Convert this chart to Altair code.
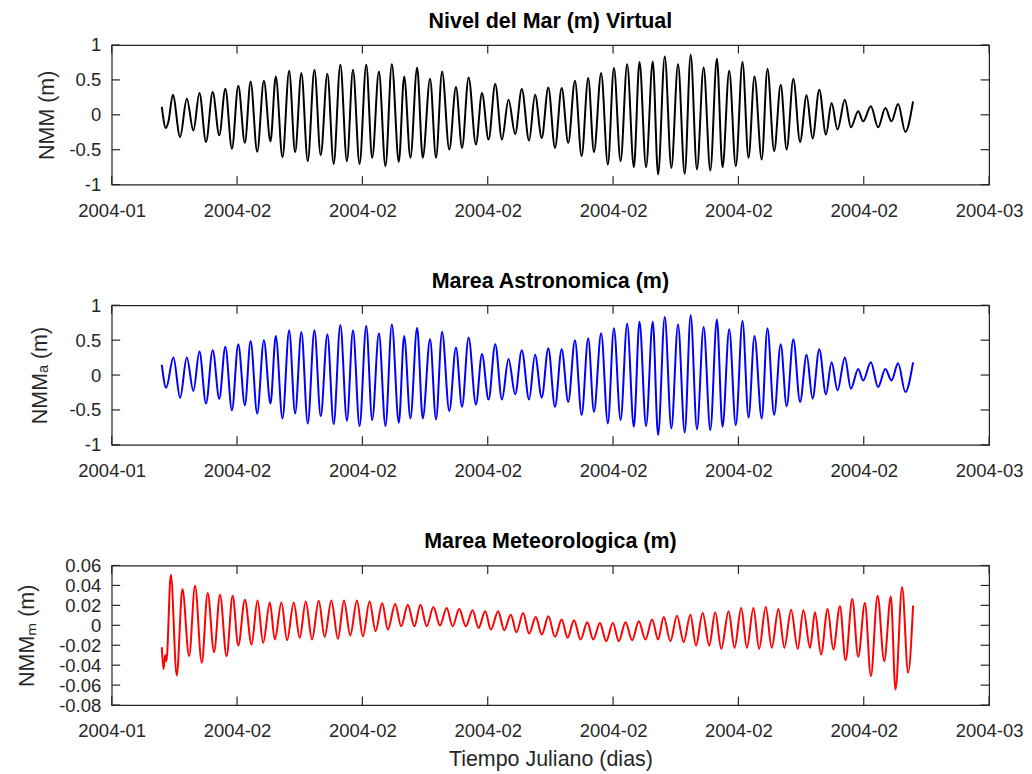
import altair as alt
import pandas as pd

# ---------------- data ----------------
START = "2004-01-29 00:00"   # first sample
x_tick_dates = ["2004-01-27", "2004-02-01", "2004-02-06", "2004-02-11",
                "2004-02-16", "2004-02-21", "2004-02-26", "2004-03-02"]

# hours since START of each turning point, and sea level (m)
nmm_hours = [0, 3.8, 6.4, 10.5, 17.5, 23.9, 30.2, 36.0, 42.3, 48.7,
             55.0, 60.8, 67.1, 73.2, 79.5, 85.0, 91.3, 97.7, 104.0, 109.1,
             115.5, 121.9, 127.6, 133.6, 139.7, 146.1, 152.1, 158.5, 164.5, 170.9,
             177.2, 183.0, 189.3, 195.7, 201.4, 207.8, 214.1, 220.2, 226.9, 232.0,
             238.0, 244.4, 249.8, 256.8, 262.5, 268.3, 275.2, 281.6, 287.4, 293.7,
             300.7, 306.5, 312.8, 319.2, 325.6, 331.9, 338.3, 344.6, 351.6, 357.3,
             363.7, 370.0, 376.4, 382.8, 389.1, 395.5, 401.9, 408.2, 413.7, 420.6,
             427.0, 432.8, 439.2, 445.5, 451.9, 457.3, 463.6, 470.0, 475.1, 481.5,
             487.8, 494.2, 500.6, 506.3, 512.3, 518.7, 525.1, 531.4, 536.8, 543.2,
             549.5, 555.9, 561.7, 567.4, 574.3, 579.8, 586.2, 592.5, 598.2, 604.6,
             611.0, 617.3, 623.0, 629.4, 635.8, 641.2, 646.9, 653.9, 659.7, 666.7,
             671.4, 678.8, 685.7, 692.7, 698.5, 704.9, 711.8, 719.2]
nmm_values = [0.112, -0.188, -0.093, 0.288, -0.317, 0.231, -0.226, 0.312, -0.388, 0.326,
              -0.293, 0.374, -0.488, 0.417, -0.402, 0.479, -0.531, 0.488, -0.379, 0.55,
              -0.607, 0.631, -0.536, 0.598, -0.664, 0.645, -0.579, 0.588, -0.702, 0.717,
              -0.664, 0.645, -0.702, 0.717, -0.617, 0.621, -0.736, 0.726, -0.674, 0.55,
              -0.617, 0.679, -0.617, 0.517, -0.617, 0.621, -0.498, 0.398, -0.474, 0.536,
              -0.426, 0.312, -0.355, 0.440, -0.355, 0.217, -0.274, 0.369, -0.369, 0.288,
              -0.331, 0.393, -0.474, 0.383, -0.402, 0.488, -0.593, 0.526, -0.536, 0.598,
              -0.712, 0.669, -0.664, 0.726, -0.75, 0.755, -0.75, 0.764, -0.855, 0.836,
              -0.760, 0.726, -0.845, 0.860, -0.783, 0.679, -0.798, 0.802, -0.75, 0.631,
              -0.736, 0.755, -0.617, 0.55, -0.640, 0.660, -0.521, 0.431, -0.498, 0.517,
              -0.388, 0.279, -0.340, 0.360, -0.283, 0.169, -0.212, 0.217, -0.179, 0.05,
              -0.093, 0.121, -0.179, 0.098, -0.093, 0.155, -0.245, 0.193]

astro_hours = [0, 4.1, 11.1, 17.5, 23.9, 30.2, 36.0, 42.3, 48.7,
               55.0, 60.8, 67.1, 73.2, 79.5, 85.0, 91.3, 97.7, 104.0, 109.1,
               115.5, 121.9, 127.6, 133.6, 139.7, 146.1, 152.1, 158.5, 164.5, 170.9,
               177.2, 183.0, 189.3, 195.7, 201.4, 207.8, 214.1, 220.2, 226.9, 232.0,
               238.0, 244.4, 249.8, 256.8, 262.5, 268.3, 275.2, 281.6, 287.4, 293.7,
               300.7, 306.5, 312.8, 319.2, 325.6, 331.9, 338.3, 344.6, 351.6, 357.3,
               363.7, 370.0, 376.4, 382.8, 389.1, 395.5, 401.9, 408.2, 413.7, 420.6,
               427.0, 432.8, 439.2, 445.5, 451.9, 457.3, 463.6, 470.0, 475.1, 481.5,
               487.8, 494.2, 500.6, 506.3, 512.3, 518.7, 525.1, 531.4, 536.8, 543.2,
               549.5, 555.9, 561.7, 567.4, 574.3, 579.8, 586.2, 592.5, 598.2, 604.6,
               611.0, 617.3, 623.0, 629.4, 635.8, 641.2, 646.9, 653.9, 659.7, 666.7,
               671.4, 678.8, 685.7, 692.7, 698.5, 704.9, 711.8, 719.2]
astro_values = [0.144, -0.182, 0.253, -0.324, 0.253, -0.229, 0.338, -0.409, 0.357,
                -0.338, 0.404, -0.504, 0.442, -0.433, 0.489, -0.551, 0.499, -0.409, 0.560,
                -0.622, 0.641, -0.551, 0.617, -0.693, 0.641, -0.589, 0.584, -0.702, 0.716,
                -0.655, 0.641, -0.730, 0.702, -0.645, 0.598, -0.730, 0.726, -0.683, 0.560,
                -0.622, 0.678, -0.622, 0.513, -0.636, 0.622, -0.518, 0.395, -0.456, 0.537,
                -0.423, 0.300, -0.352, 0.442, -0.352, 0.229, -0.277, 0.357, -0.352, 0.291,
                -0.324, 0.385, -0.456, 0.371, -0.385, 0.499, -0.574, 0.527, -0.527, 0.598,
                -0.693, 0.669, -0.645, 0.735, -0.740, 0.764, -0.730, 0.764, -0.858, 0.830,
                -0.764, 0.726, -0.825, 0.858, -0.778, 0.688, -0.787, 0.797, -0.740, 0.655,
                -0.716, 0.773, -0.608, 0.560, -0.622, 0.669, -0.574, 0.442, -0.447, 0.513,
                -0.385, 0.291, -0.338, 0.371, -0.277, 0.182, -0.220, 0.253, -0.196, 0.088,
                -0.078, 0.182, -0.173, 0.088, -0.078, 0.168, -0.244, 0.182]

meteo_hours = [0, 1.6, 3.2, 4.4, 8.6, 14.3, 19.7, 26.1, 31.8, 38.2,
               43.9, 50.0, 55.7, 62.0, 67.8, 73.2, 79.5, 85.9, 91.6, 97.0,
               103.4, 108.2, 114.5, 119.9, 126.3, 132.0, 137.8, 143.8, 150.2, 155.9,
               162.3, 168.6, 174.4, 180.4, 186.8, 192.5, 198.9, 204.6, 211.0, 216.4,
               223.4, 229.1, 235.5, 241.8, 247.6, 253.6, 260.0, 266.3, 272.7, 278.4,
               284.7, 291.1, 297.5, 303.2, 309.6, 315.0, 322.0, 327.8, 334.1, 339.5,
               345.9, 351.6, 358.0, 363.7, 370.1, 376.4, 382.8, 388.5, 394.6, 400.9,
               407.3, 413.0, 419.4, 425.4, 431.8, 437.5, 443.9, 450.3, 456.6, 463.0,
               469.4, 475.1, 480.5, 486.9, 493.2, 499.6, 506.0, 511.4, 517.8, 524.1,
               529.8, 535.6, 542.6, 548.3, 554.7, 560.1, 566.4, 571.8, 578.2, 583.9,
               590.3, 596.0, 602.4, 608.8, 614.2, 620.6, 625.3, 631.1, 637.4, 642.8,
               649.2, 654.6, 661.0, 666.7, 673.1, 678.8, 685.2, 691.6, 697.9, 702.4,
               708.7, 714.5, 719.2]
meteo_values = [-0.022, -0.044, -0.030, -0.036, 0.0507, -0.0503, 0.0364, -0.031, 0.0397, -0.0376,
                0.0324, -0.027, 0.0307, -0.031, 0.0297, -0.0203, 0.0257, -0.0193, 0.025, -0.0176,
                0.023, -0.0143, 0.023, -0.015, 0.023, -0.0126, 0.024, -0.0143, 0.0247, -0.0116,
                0.025, -0.0136, 0.025, -0.0103, 0.025, -0.011, 0.024, -0.006, 0.0224, -0.0043,
                0.0214, -0.001, 0.0207, -0.001, 0.0207, -0.001, 0.0184, -0.0003, 0.0174, -0.001,
                0.0164, -0.001, 0.015, -0.0026, 0.014, -0.0043, 0.014, -0.005, 0.0107, -0.007,
                0.0124, -0.0083, 0.0084, -0.0093, 0.009, -0.0116, 0.0057, -0.0126, 0.005, -0.0143,
                0.003, -0.0143, 0.0024, -0.016, 0.0024, -0.016, 0.003, -0.015, 0.004, -0.0143,
                0.0057, -0.0143, 0.0084, -0.016, 0.0097, -0.017, 0.0107, -0.0203, 0.0124, -0.0203,
                0.013, -0.0236, 0.014, -0.0226, 0.0174, -0.0226, 0.0174, -0.0236, 0.0184, -0.0226,
                0.0164, -0.0226, 0.0157, -0.0236, 0.015, -0.0226, 0.013, -0.0293, 0.0164, -0.0243,
                0.019, -0.035, 0.0264, -0.0316, 0.0224, -0.051, 0.0297, -0.036, 0.029, -0.0643,
                0.0384, -0.0476, 0.0197]

y_ticks_main = [-1, -0.5, 0, 0.5, 1]
y_ticks_meteo = [-0.08, -0.06, -0.04, -0.02, 0, 0.02, 0.04, 0.06]

titles = ["Nivel del Mar (m) Virtual", "Marea Astronomica (m)", "Marea Meteorologica (m)"]
y_titles = ["NMM (m)", "NMM\u2090 (m)", "NMM\u2098  (m)"]
x_title = "Tiempo Juliano (dias)"

# ---------------- chart ----------------
W, H = 880, 140
FONT = "Liberation Sans"
INK = "#262626"
TICK = 8.5


def to_dt(s):
    ts = pd.Timestamp(s)
    return alt.DateTime(year=ts.year, month=ts.month, date=ts.day)


def frame(hours, values):
    t0 = pd.Timestamp(START)
    return pd.DataFrame({"t": [t0 + pd.Timedelta(hours=h) for h in hours], "v": values})


x_ticks_df = pd.DataFrame({"t": [pd.Timestamp(d) for d in x_tick_dates]})


def panel(df, color, ydom, yticks, title, ytitle, xtitle, ytitle_pad):
    x = alt.X("t:T",
              scale=alt.Scale(domain=[to_dt(x_tick_dates[0]), to_dt(x_tick_dates[-1])]),
              axis=alt.Axis(values=[to_dt(d) for d in x_tick_dates], format="%Y-%m",
                            title=xtitle, ticks=False, tickSize=0, domain=False, grid=False,
                            labelPadding=17, titlePadding=8, labelFlush=False))
    y = alt.Y("v:Q",
              scale=alt.Scale(domain=ydom, nice=False, zero=False),
              axis=alt.Axis(values=yticks, labelExpr="'' + datum.value", title=ytitle,
                            ticks=False, tickSize=0, domain=False, grid=False,
                            labelPadding=11, titlePadding=ytitle_pad))
    line = alt.Chart(df).mark_line(color=color, strokeWidth=2, clip=True,
                                   interpolate="monotone").encode(x=x, y=y)
    xt = alt.Chart(x_ticks_df)
    top = xt.mark_rule(color=INK, strokeWidth=1.2).encode(x=x, y=alt.value(0), y2=alt.value(TICK))
    bot = xt.mark_rule(color=INK, strokeWidth=1.2).encode(x=x, y=alt.value(H), y2=alt.value(H - TICK))
    yt = alt.Chart(pd.DataFrame({"v": yticks}))
    left = yt.mark_rule(color=INK, strokeWidth=1.2).encode(y=y, x=alt.value(0), x2=alt.value(TICK))
    right = yt.mark_rule(color=INK, strokeWidth=1.2).encode(y=y, x=alt.value(W), x2=alt.value(W - TICK))
    return alt.layer(line, top, bot, left, right).properties(
        width=W, height=H, title=alt.Title(title))


p1 = panel(frame(nmm_hours, nmm_values), "#000000", [-1, 1], y_ticks_main,
           titles[0], y_titles[0], None, 10)
p2 = panel(frame(astro_hours, astro_values), "#0000ff", [-1, 1], y_ticks_main,
           titles[1], y_titles[1], None, 18)
p3 = panel(frame(meteo_hours, meteo_values), "#ff0000", [-0.08, 0.06], y_ticks_meteo,
           titles[2], y_titles[2], x_title, 20)

chart = alt.vconcat(p1, p2, p3, spacing=121, bounds="flush").properties(
    padding={"left": 8, "top": 0, "right": 0, "bottom": 0}
).configure_view(
    stroke=INK, strokeWidth=1.2
).configure_axis(
    labelFont=FONT, labelFontSize=18.5, labelColor=INK,
    titleFont=FONT, titleFontSize=21.5, titleColor=INK, titleFontWeight="normal"
).configure_title(
    font=FONT, fontSize=21.5, fontWeight="bold", color="#000000",
    anchor="middle", baseline="alphabetic", offset=4
)

chart.save("out.html", embed_options={"renderer": "svg", "actions": False})
